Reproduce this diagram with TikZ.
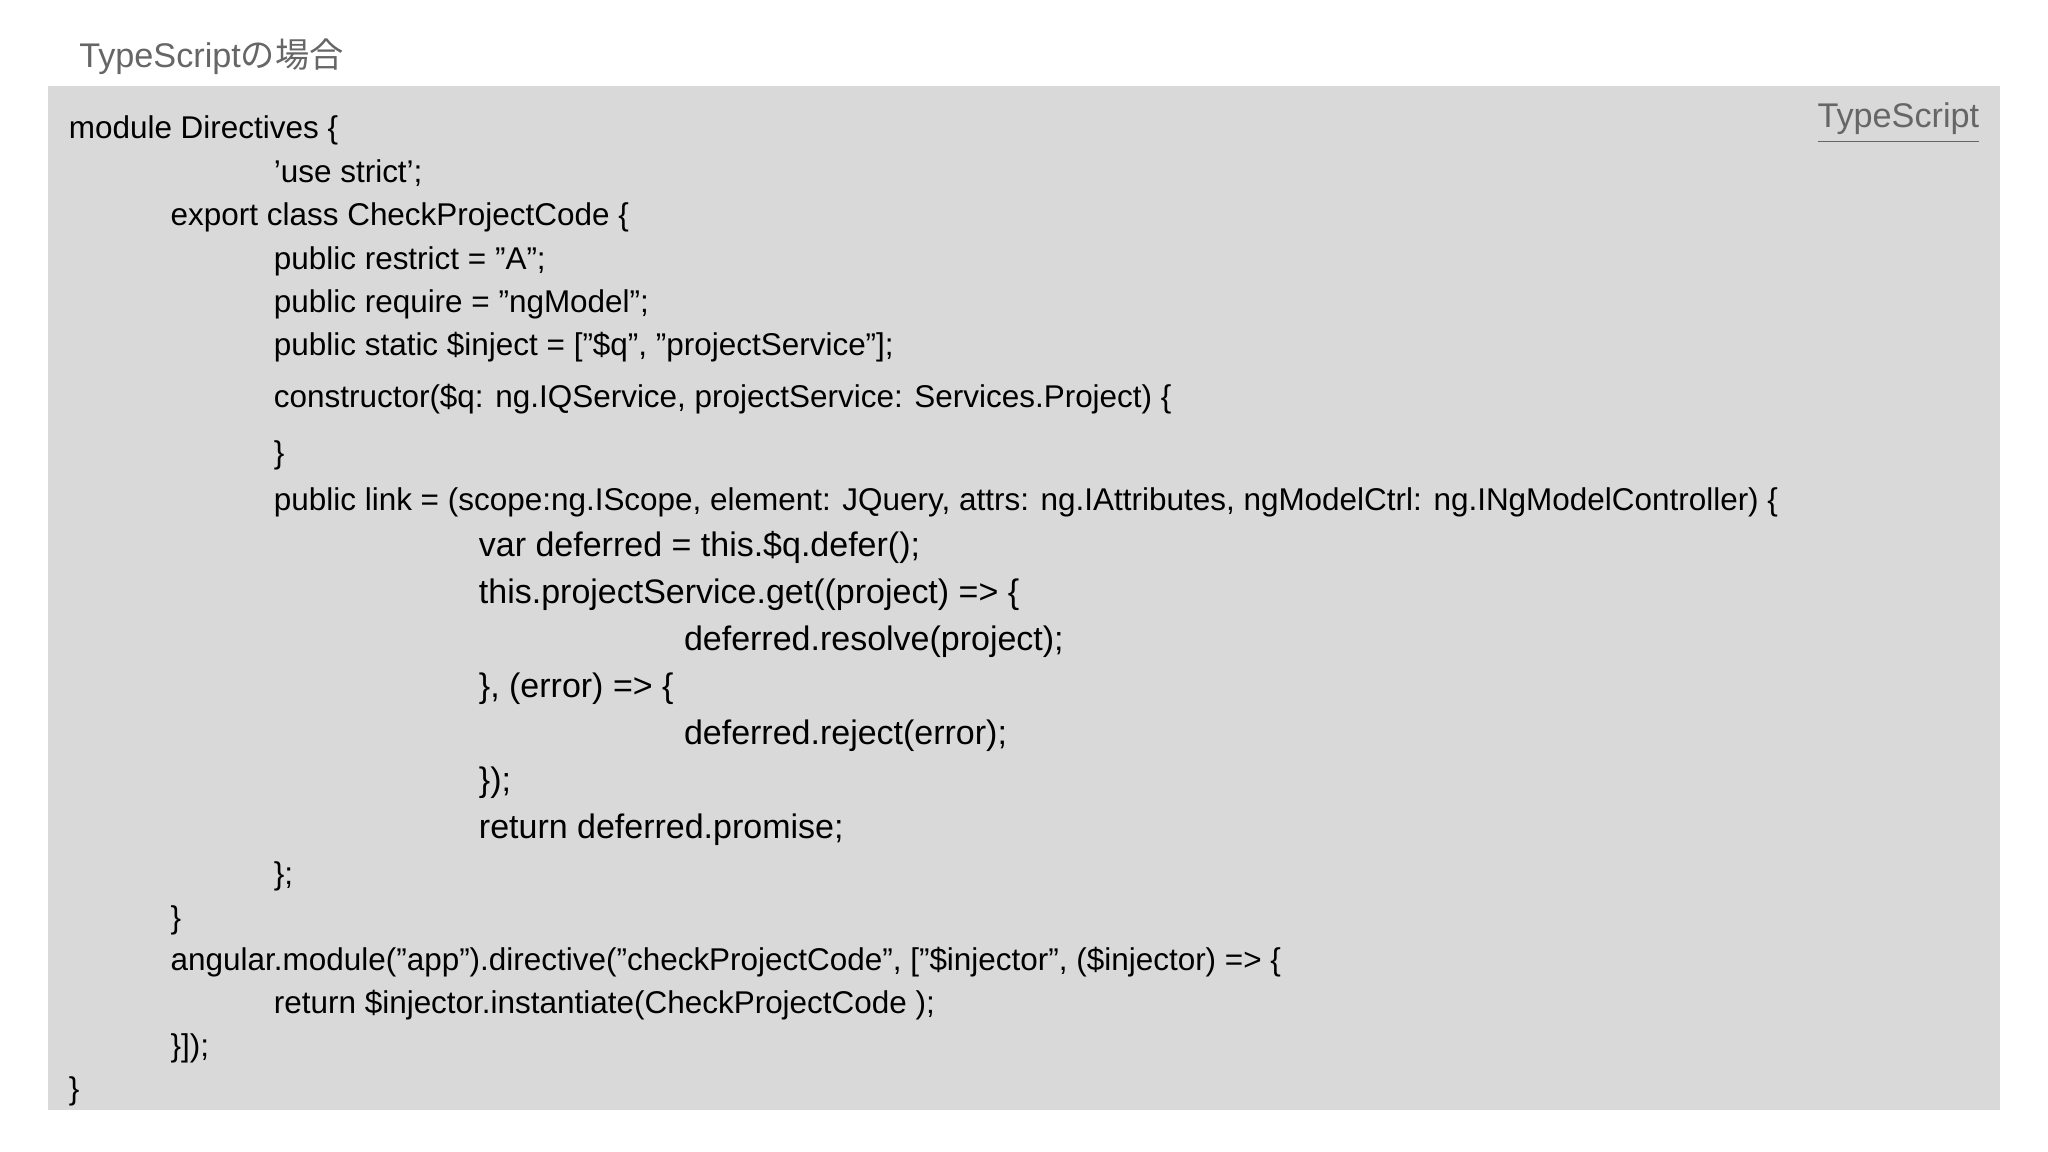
\documentclass[tikz,border=0pt]{standalone}
\usepackage{fontspec}
\setmainfont{Liberation Sans}
\newfontfamily\cjk{Noto Sans CJK JP}
\definecolor{boxgray}{HTML}{D9D9D9}
\definecolor{labgray}{HTML}{666666}
\begin{document}
\begin{tikzpicture}[x=0.01cm,y=-0.01cm,
  code/.style={anchor=base west,inner sep=0pt,font=\fontsize{6.85}{8}\selectfont},
  big/.style={anchor=base west,inner sep=0pt,font=\fontsize{7.4}{8}\selectfont}]
\useasboundingbox (0,0) rectangle (1568,882);
\fill[boxgray] (37,66) rectangle (1531,850);
\node[anchor=base west,inner sep=0pt,text=labgray,font=\fontsize{7.45}{8}\selectfont] (title) at (60,52) {TypeScript{\cjk の場合}};
\node[anchor=base east,inner sep=0pt,text=labgray,font=\fontsize{7.45}{8}\selectfont] (tslab) at (1516,98) {\underline{TypeScript}};
\node[code] (l1) at (52,106) {module Directives \{};
\node[code] (l2) at (209,140) {'use strict';};
\node[code] (l3) at (130,173) {export class CheckProjectCode \{};
\node[code] (l4) at (209,206) {public restrict = "A";};
\node[code] (l5) at (209,239) {public require = "ngModel";};
\node[code] (l6) at (209,272) {public static \$inject = ["\$q", "projectService"];};
\node[code] (l7) at (209,312) {constructor(\$q: ng.IQService, projectService: Services.Project) \{};
\node[code] (l8) at (209,355) {\}};
\node[code] (l9) at (209,391) {public link = (scope:ng.IScope, element: JQuery, attrs: ng.IAttributes, ngModelCtrl: ng.INgModelController) \{};
\node[big] (l10) at (366,426) {var deferred = this.\$q.defer();};
\node[big] (l11) at (366,462) {this.projectService.get((project) => \{};
\node[big] (l12) at (523,498) {deferred.resolve(project);};
\node[big] (l13) at (366,534) {\}, (error) => \{};
\node[big] (l14) at (523,570) {deferred.reject(error);};
\node[big] (l15) at (366,606) {\});};
\node[big] (l16) at (366,642) {return deferred.promise;};
\node[code] (l17) at (209,677) {\};};
\node[code] (l18) at (130,711) {\}};
\node[code] (l19) at (130,743) {angular.module("app").directive("checkProjectCode", ["\$injector", (\$injector) => \{};
\node[code] (l20) at (209,776) {return \$injector.instantiate(CheckProjectCode );};
\node[code] (l21) at (130,809) {\}]);};
\node[code] (l22) at (52,842) {\}};
\end{tikzpicture}
\end{document}
